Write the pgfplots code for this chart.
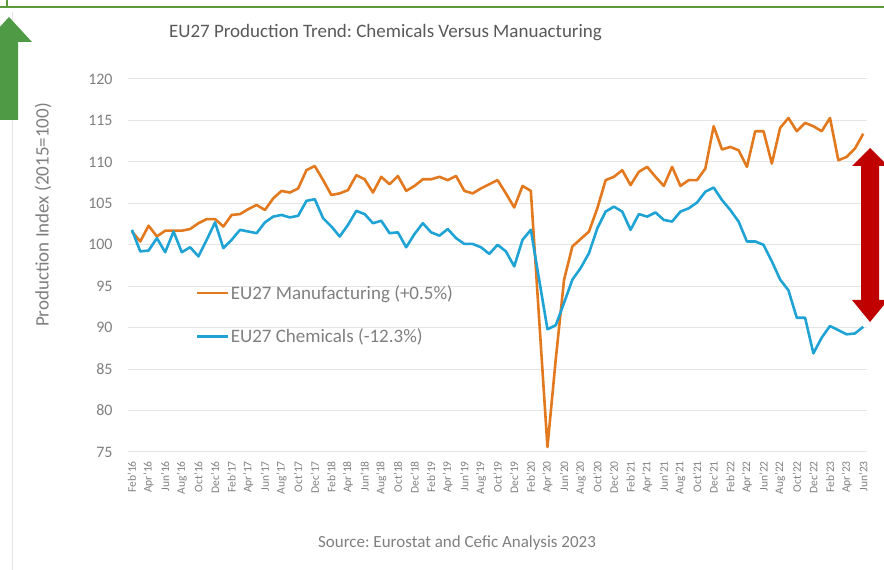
\documentclass[border=0pt]{standalone}
\usepackage{fontspec}
\setmainfont{Carlito}
\usepackage{pgfplots}
\usepackage{pgfplotstable}
\pgfplotsset{compat=1.18}
\frenchspacing

\definecolor{mfg}{HTML}{E2791E}
\definecolor{chem}{HTML}{1FA3D5}
\definecolor{gridgray}{HTML}{E4E4E4}
\definecolor{titlegray}{HTML}{595959}
\definecolor{tickgray}{HTML}{7F7F7F}
\definecolor{arrowgreen}{HTML}{4E9A45}
\definecolor{framegreen}{HTML}{5A9B3C}
\definecolor{arrowred}{HTML}{C00000}

% monthly index, 0 = Feb 2016 ... 88 = Jun 2023
\pgfplotstableread{
m mfg chem
0 101.6 101.8
1 100.4 99.2
2 102.3 99.3
3 101.0 100.8
4 101.7 99.1
5 101.7 101.6
6 101.7 99.1
7 101.9 99.7
8 102.6 98.6
9 103.1 100.6
10 103.1 102.7
11 102.2 99.6
12 103.6 100.6
13 103.7 101.8
14 104.3 101.6
15 104.8 101.4
16 104.2 102.7
17 105.6 103.4
18 106.5 103.6
19 106.3 103.3
20 106.8 103.5
21 109.0 105.3
22 109.5 105.5
23 107.8 103.2
24 106.0 102.2
25 106.2 101.0
26 106.6 102.4
27 108.4 104.1
28 107.9 103.7
29 106.3 102.6
30 108.2 102.9
31 107.3 101.4
32 108.3 101.5
33 106.5 99.7
34 107.1 101.3
35 107.9 102.6
36 107.9 101.5
37 108.2 101.1
38 107.8 101.9
39 108.3 100.8
40 106.5 100.1
41 106.2 100.1
42 106.8 99.7
43 107.3 98.9
44 107.8 100.0
45 106.2 99.2
46 104.5 97.4
47 107.1 100.6
48 106.5 101.8
49 91.0 95.8
50 75.6 89.8
51 86.2 90.3
52 95.8 93.0
53 99.8 95.8
54 100.7 97.2
55 101.6 99.0
56 104.4 102.0
57 107.8 104.0
58 108.2 104.6
59 109.0 104.0
60 107.2 101.8
61 108.8 103.7
62 109.4 103.4
63 108.2 103.9
64 107.1 103.0
65 109.4 102.8
66 107.1 104.0
67 107.8 104.4
68 107.8 105.1
69 109.2 106.4
70 114.3 106.9
71 111.5 105.4
72 111.8 104.2
73 111.4 102.8
74 109.4 100.4
75 113.7 100.4
76 113.7 100.0
77 109.8 98.0
78 114.1 95.8
79 115.3 94.5
80 113.7 91.2
81 114.7 91.2
82 114.3 86.9
83 113.7 88.8
84 115.3 90.2
85 110.2 89.7
86 110.6 89.2
87 111.6 89.3
88 113.4 90.1
}\prodtable

\begin{document}
\begin{tikzpicture}
\path[use as bounding box] (0pt,0pt) rectangle (884pt,570pt);

\begin{axis}[
  at={(127.8pt,118pt)}, anchor=south west,
  scale only axis,
  width=739.6pt, height=373pt,
  xmin=-0.5, xmax=88.5,
  ymin=75, ymax=120,
  ytick={75,80,...,120},
  xtick={0,2,...,88},
  xticklabels={Feb'16,Apr'16,Jun'16,Aug'16,Oct'16,Dec'16,
    Feb'17,Apr'17,Jun'17,Aug'17,Oct'17,Dec'17,
    Feb'18,Apr'18,Jun'18,Aug'18,Oct'18,Dec'18,
    Feb'19,Apr'19,Jun'19,Aug'19,Oct'19,Dec'19,
    Feb'20,Apr'20,Jun'20,Aug'20,Oct'20,Dec'20,
    Feb'21,Apr'21,Jun'21,Aug'21,Oct'21,Dec'21,
    Feb'22,Apr'22,Jun'22,Aug'22,Oct'22,Dec'22,
    Feb'23,Apr'23,Jun'23},
  axis line style={draw=none},
  major tick length=0pt,
  ymajorgrids,
  major grid style={gridgray, line width=1pt},
  /pgf/number format/assume math mode=true,
  yticklabel style={font=\fontsize{16}{18}\selectfont, text=tickgray, anchor=east, inner sep=0pt},
  yticklabel shift=15pt,
  xticklabel style={font=\fontsize{11.5}{13}\selectfont, text=tickgray, rotate=90, anchor=east, inner sep=0pt},
  xticklabel shift=9pt,
  legend style={draw=none, fill=none, at={(0.092,0.450)}, anchor=north west,
    font=\fontsize{19}{22}\selectfont, text=tickgray, row sep=26pt,
    inner sep=0pt, nodes={inner sep=1pt}},
  legend cell align=left,
  legend image code/.code={\draw[#1, line width=2.8pt] (0pt,0pt) -- (31pt,0pt);},
]
\addplot[mfg, line width=2.6pt, line join=round] table[x=m, y=mfg] {\prodtable};
\addlegendentry{EU27 Manufacturing (+0.5\%)}
\addplot[chem, line width=2.6pt, line join=round] table[x=m, y=chem] {\prodtable};
\addlegendentry{EU27 Chemicals (-12.3\%)}
\end{axis}

% titles and labels
\node[text=titlegray, font=\fontsize{19}{22}\selectfont] at (385.5pt,537pt) {EU27 Production Trend: Chemicals Versus Manuacturing};
\node[text=tickgray, font=\fontsize{19}{22}\selectfont, rotate=90] at (43pt,355pt) {Production Index (2015=100)};
\node[text=tickgray, font=\fontsize{17}{20}\selectfont] at (457pt,27pt) {Source: Eurostat and Cefic Analysis 2023};

% frame and arrows
\begin{scope}
\clip (0pt,0pt) rectangle (884pt,570pt);
\draw[framegreen, line width=2pt] (0pt,563pt) -- (884pt,563pt);
\draw[framegreen, line width=1.5pt] (7pt,570pt) -- (7pt,563pt);
\draw[gridgray, line width=0.8pt] (12.5pt,558pt) -- (12.5pt,0pt);
\fill[arrowgreen] (0pt,450pt) -- (18pt,450pt) -- (18pt,528pt) -- (32pt,528pt)
  -- (9pt,553pt) -- (-14pt,528pt) -- (0pt,528pt) -- cycle;
\fill[arrowred] (861pt,404pt) -- (852pt,404pt) -- (870pt,422pt) -- (888pt,404pt)
  -- (879pt,404pt) -- (879pt,270pt) -- (888pt,270pt) -- (870pt,248pt)
  -- (852pt,270pt) -- (861pt,270pt) -- cycle;
\end{scope}
\end{tikzpicture}
\end{document}
